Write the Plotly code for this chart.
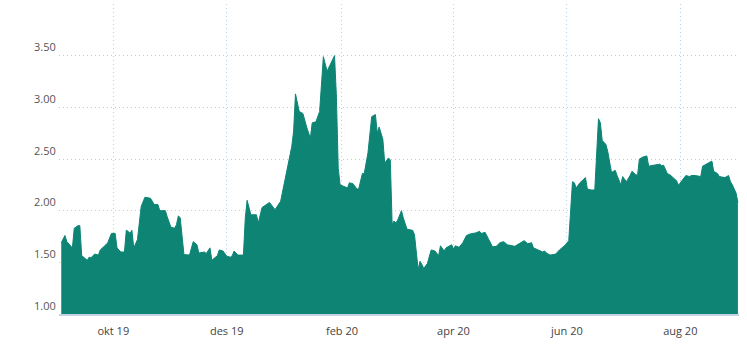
import plotly.graph_objects as go

dates = [
    "2019-09-03", "2019-09-05", "2019-09-06", "2019-09-09", "2019-09-10", "2019-09-12", "2019-09-13",
    "2019-09-14", "2019-09-17", "2019-09-18", "2019-09-19", "2019-09-21", "2019-09-23", "2019-09-24",
    "2019-09-27", "2019-09-28", "2019-09-30", "2019-10-02", "2019-10-03", "2019-10-05", "2019-10-07",
    "2019-10-08", "2019-10-09", "2019-10-10", "2019-10-11", "2019-10-12", "2019-10-14", "2019-10-16",
    "2019-10-18", "2019-10-21", "2019-10-23", "2019-10-25", "2019-10-26", "2019-10-29", "2019-10-30",
    "2019-11-01", "2019-11-03", "2019-11-04", "2019-11-05", "2019-11-06", "2019-11-08", "2019-11-11",
    "2019-11-13", "2019-11-15", "2019-11-16", "2019-11-19", "2019-11-20", "2019-11-22", "2019-11-23",
    "2019-11-26", "2019-11-27", "2019-11-29", "2019-12-01", "2019-12-03", "2019-12-04", "2019-12-05",
    "2019-12-07", "2019-12-10", "2019-12-11", "2019-12-12", "2019-12-14", "2019-12-17", "2019-12-18",
    "2019-12-20", "2019-12-24", "2019-12-27", "2019-12-30", "2020-01-01", "2020-01-03", "2020-01-05",
    "2020-01-06", "2020-01-07", "2020-01-09", "2020-01-11", "2020-01-13", "2020-01-15", "2020-01-16",
    "2020-01-18", "2020-01-20", "2020-01-21", "2020-01-22", "2020-01-24", "2020-01-26", "2020-01-28",
    "2020-01-29", "2020-01-30", "2020-01-31", "2020-02-04", "2020-02-05", "2020-02-07", "2020-02-09",
    "2020-02-10", "2020-02-12", "2020-02-13", "2020-02-15", "2020-02-17", "2020-02-19", "2020-02-20",
    "2020-02-21", "2020-02-23", "2020-02-24", "2020-02-26", "2020-02-27", "2020-02-28", "2020-02-29",
    "2020-03-01", "2020-03-02", "2020-03-04", "2020-03-05", "2020-03-07", "2020-03-10", "2020-03-11",
    "2020-03-13", "2020-03-14", "2020-03-15", "2020-03-16", "2020-03-18", "2020-03-20", "2020-03-22",
    "2020-03-24", "2020-03-25", "2020-03-27", "2020-03-28", "2020-03-31", "2020-04-01", "2020-04-02",
    "2020-04-04", "2020-04-06", "2020-04-08", "2020-04-10", "2020-04-13", "2020-04-15", "2020-04-16",
    "2020-04-18", "2020-04-20", "2020-04-22", "2020-04-24", "2020-04-26", "2020-04-28", "2020-04-30",
    "2020-05-04", "2020-05-07", "2020-05-09", "2020-05-11", "2020-05-13", "2020-05-14", "2020-05-17",
    "2020-05-19", "2020-05-20", "2020-05-21", "2020-05-23", "2020-05-26", "2020-05-28", "2020-05-31",
    "2020-06-02", "2020-06-03", "2020-06-04", "2020-06-05", "2020-06-06", "2020-06-08", "2020-06-11",
    "2020-06-12", "2020-06-14", "2020-06-16", "2020-06-17", "2020-06-18", "2020-06-19", "2020-06-20",
    "2020-06-22", "2020-06-23", "2020-06-25", "2020-06-27", "2020-06-28", "2020-06-30", "2020-07-01",
    "2020-07-03", "2020-07-05", "2020-07-06", "2020-07-08", "2020-07-09", "2020-07-10", "2020-07-12",
    "2020-07-14", "2020-07-15", "2020-07-16", "2020-07-18", "2020-07-19", "2020-07-21", "2020-07-22",
    "2020-07-23", "2020-07-25", "2020-07-27", "2020-07-28", "2020-07-30", "2020-07-31", "2020-08-02",
    "2020-08-04", "2020-08-06", "2020-08-07", "2020-08-09", "2020-08-12", "2020-08-13", "2020-08-16",
    "2020-08-18", "2020-08-19", "2020-08-21", "2020-08-22", "2020-08-25", "2020-08-27", "2020-08-28",
    "2020-08-29", "2020-08-31", "2020-09-01",
]

values = [
    1.69, 1.76, 1.70, 1.64, 1.83, 1.855, 1.855,
    1.565, 1.52, 1.55, 1.545, 1.58, 1.57, 1.62,
    1.67, 1.69, 1.78, 1.78, 1.64, 1.60, 1.60,
    1.81, 1.80, 1.78, 1.81, 1.64, 1.72, 2.04,
    2.13, 2.12, 2.06, 2.06, 2.00, 2.00, 1.94,
    1.84, 1.83, 1.865, 1.95, 1.93, 1.575, 1.57,
    1.70, 1.67, 1.59, 1.60, 1.585, 1.64, 1.52,
    1.565, 1.62, 1.61, 1.56, 1.55, 1.565, 1.61,
    1.57, 1.57, 1.93, 2.10, 1.96, 1.96, 1.88,
    2.03, 2.08, 2.01, 2.09, 2.27, 2.45, 2.62,
    2.77, 3.13, 2.96, 2.94, 2.81, 2.70, 2.85,
    2.86, 2.96, 3.25, 3.49, 3.35, 3.43, 3.50,
    3.11, 2.41, 2.25, 2.22, 2.27, 2.26, 2.21,
    2.21, 2.36, 2.36, 2.56, 2.91, 2.93, 2.75,
    2.81, 2.69, 2.46, 2.51, 2.49, 1.865, 1.90,
    1.88, 1.91, 2.00, 1.93, 1.82, 1.81, 1.77,
    1.43, 1.51, 1.48, 1.44, 1.49, 1.62, 1.61,
    1.565, 1.66, 1.61, 1.64, 1.67, 1.63, 1.66,
    1.645, 1.69, 1.76, 1.775, 1.785, 1.80, 1.78,
    1.79, 1.72, 1.65, 1.655, 1.69, 1.70, 1.67,
    1.655, 1.69, 1.71, 1.68, 1.69, 1.64, 1.62,
    1.60, 1.61, 1.59, 1.57, 1.58, 1.62, 1.665,
    1.71, 2.04, 2.28, 2.27, 2.22, 2.27, 2.32,
    2.21, 2.20, 2.20, 2.60, 2.89, 2.85, 2.68,
    2.64, 2.57, 2.37, 2.39, 2.34, 2.25, 2.33,
    2.28, 2.34, 2.38, 2.35, 2.34, 2.50, 2.52,
    2.53, 2.43, 2.435, 2.44, 2.44, 2.45, 2.435,
    2.44, 2.36, 2.34, 2.32, 2.29, 2.245, 2.29,
    2.34, 2.33, 2.34, 2.34, 2.33, 2.43, 2.46,
    2.48, 2.38, 2.36, 2.33, 2.32, 2.34, 2.28,
    2.25, 2.17, 2.08,
]

x_tickvals = ["2019-10-01", "2019-12-01", "2020-02-01", "2020-04-01", "2020-06-01", "2020-08-01"]
x_ticktext = ["okt 19", "des 19", "feb 20", "apr 20", "jun 20", "aug 20"]
y_tickvals = [1.0, 1.5, 2.0, 2.5, 3.0, 3.5, 4.0]
y_ticktext = ["1.00", "1.50", "2.00", "2.50", "3.00", "3.50", ""]

fill_color = "#0e8474"
grid_color = "#b3d2ee"
label_color = "#555555"

fig = go.Figure()
fig.add_trace(go.Scatter(
    x=dates, y=values, mode="lines",
    line=dict(color=fill_color, width=1),
    fill="tozeroy", fillcolor=fill_color,
    hoverinfo="x+y", showlegend=False,
))

fig.update_layout(
    width=747, height=351,
    margin=dict(l=59, r=8, t=4, b=37),
    paper_bgcolor="white", plot_bgcolor="white",
    font=dict(family="Open Sans, sans-serif", size=11, color=label_color),
    xaxis=dict(
        range=["2019-09-01 19:00", "2020-09-01 14:00"],
        tickmode="array", tickvals=x_tickvals, ticktext=x_ticktext,
        showgrid=True, gridcolor=grid_color, griddash="1px,3px", gridwidth=1,
        showline=True, linecolor="#c5d3e6", linewidth=2,
        ticks="outside", ticklen=6, tickcolor="rgba(0,0,0,0)",
        zeroline=False, tickfont=dict(size=11, color="#444444"),
    ),
    yaxis=dict(
        range=[1.0, 4.0],
        tickmode="array", tickvals=y_tickvals, ticktext=y_ticktext,
        showgrid=True, gridcolor=grid_color, griddash="1px,3px", gridwidth=1,
        showline=False, zeroline=False,
        ticks="outside", ticklen=20, tickcolor="rgba(0,0,0,0)",
        ticklabelposition="outside top",
        tickfont=dict(size=11, color=label_color),
    ),
)

fig.write_html("out.html")
